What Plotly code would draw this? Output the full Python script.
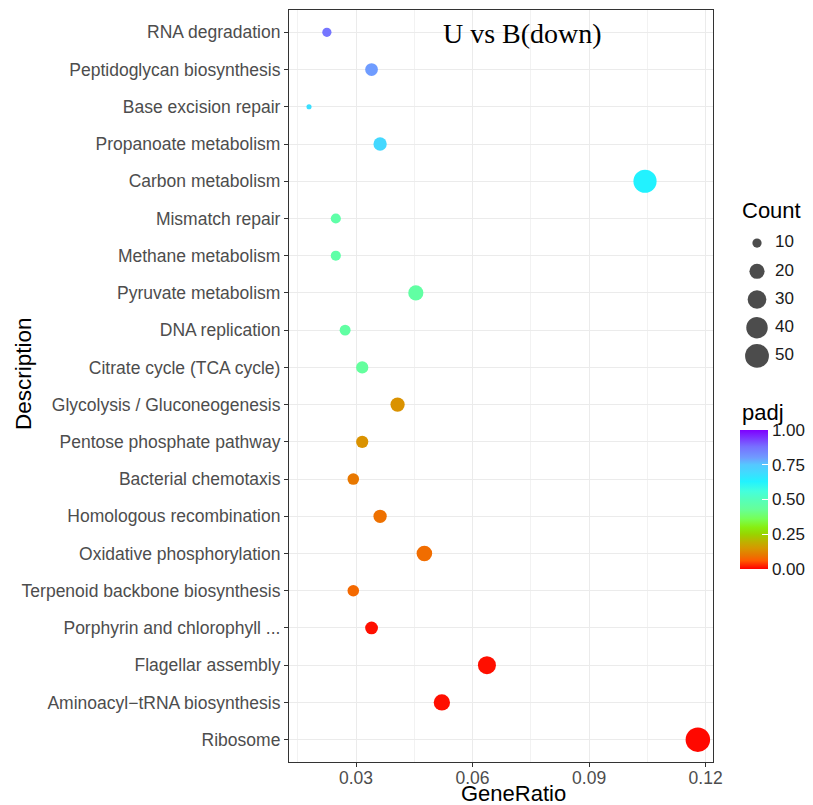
import numpy as np
import plotly.graph_objects as go

# KEGG enrichment, U vs B (down-regulated genes); listed top to bottom
pathways = [
    "RNA degradation", "Peptidoglycan biosynthesis", "Base excision repair",
    "Propanoate metabolism", "Carbon metabolism", "Mismatch repair",
    "Methane metabolism", "Pyruvate metabolism", "DNA replication",
    "Citrate cycle (TCA cycle)", "Glycolysis / Gluconeogenesis",
    "Pentose phosphate pathway", "Bacterial chemotaxis",
    "Homologous recombination", "Oxidative phosphorylation",
    "Terpenoid backbone biosynthesis", "Porphyrin and chlorophyll ...",
    "Flagellar assembly", "Aminoacyl\u2212tRNA biosynthesis", "Ribosome",
]
gene_ratio = [0.0225, 0.0340, 0.0179, 0.0362, 0.1044, 0.0248, 0.0248, 0.0454,
              0.0272, 0.0316, 0.0407, 0.0316, 0.0293, 0.0362, 0.0476, 0.0293,
              0.0340, 0.0637, 0.0521, 0.1180]
counts = [10, 15, 8, 16, 47, 11, 11, 20, 12, 14, 18, 14, 13, 16, 21, 13,
          15, 28, 23, 53]
padj = [0.87, 0.80, 0.68, 0.70, 0.63, 0.46, 0.46, 0.45, 0.45, 0.44, 0.14,
        0.14, 0.10, 0.09, 0.085, 0.08, 0.01, 0.01, 0.01, 0.005]

x_ticks = [0.03, 0.06, 0.09, 0.12]
size_breaks = [10, 20, 30, 40, 50]
padj_ticks = [0.0, 0.25, 0.5, 0.75, 1.0]

W, H = 813, 805
# plot panel in pixels
PL, PR, PT, PB = 289, 713, 10, 762
X_RANGE = [0.01275, 0.1219]

rainbow = [
    [0.00, "#ff0000"], [0.06, "#ff5a00"], [0.10, "#e87800"],
    [0.15, "#d69800"], [0.20, "#bbb400"], [0.25, "#99d400"],
    [0.30, "#88ee11"], [0.36, "#77ff55"], [0.43, "#66ff99"],
    [0.50, "#55ffbb"], [0.56, "#44ffdd"], [0.63, "#22f2ff"],
    [0.70, "#44d8ff"], [0.75, "#55c8ff"], [0.80, "#6f9cff"],
    [0.88, "#7770ff"], [1.00, "#7f00ff"],
]

cmin_n, cmax_n = min(counts), max(counts)


def dot_diameter(n):
    # area-proportional size scale between 1 and 6 (ggplot units), in px
    frac = np.clip((np.asarray(n, float) - cmin_n) / (cmax_n - cmin_n), 0, 1)
    size = 1 + 5 * np.sqrt(frac)
    return 1.36 * (size * 2.845 + 0.94)


SANS = "Liberation Sans, Arial"

fig = go.Figure()

fig.add_trace(go.Scatter(
    x=gene_ratio, y=pathways, mode="markers",
    marker=dict(
        size=dot_diameter(counts), color=padj, colorscale=rainbow,
        cmin=0, cmax=1, opacity=1, line=dict(width=0),
        colorbar=dict(
            x=740 / W, xanchor="left", y=(H - 499.5) / H, yanchor="middle",
            len=139 / H, lenmode="fraction", thickness=28,
            outlinewidth=0, tickvals=padj_ticks,
            ticktext=[f"{v:.2f}" for v in padj_ticks],
            ticks="inside", ticklen=6, tickcolor="white", tickwidth=1,
            tickfont=dict(family=SANS, size=17, color="#1a1a1a"),
            ypad=0, xpad=0,
        ),
    ),
    showlegend=False, hoverinfo="x+y",
))

# size legend on its own small axis pair
fig.add_trace(go.Scatter(
    x=[17] * len(size_breaks), y=size_breaks, mode="markers",
    marker=dict(size=dot_diameter(size_breaks), color="#000000",
                line=dict(width=0)),
    xaxis="x2", yaxis="y2", showlegend=False, hoverinfo="skip",
))
fig.add_trace(go.Scatter(
    x=[35] * len(size_breaks), y=size_breaks, mode="text",
    text=[str(v) for v in size_breaks], textposition="middle right",
    textfont=dict(family=SANS, size=17, color="#1a1a1a"),
    xaxis="x2", yaxis="y2", showlegend=False, hoverinfo="skip",
))

tick_font = dict(family=SANS, size=17.5, color="#4d4d4d")

fig.update_layout(
    width=W, height=H,
    margin=dict(l=0, r=0, t=0, b=0, autoexpand=False),
    paper_bgcolor="white", plot_bgcolor="white",
    xaxis=dict(
        domain=[PL / W, PR / W], range=X_RANGE,
        tickvals=x_ticks, ticktext=[f"{v:.2f}" for v in x_ticks],
        ticks="", tickfont=tick_font,
        showgrid=True, gridcolor="#ebebeb", gridwidth=1.2,
        minor=dict(tickvals=[0.015, 0.045, 0.075, 0.105], showgrid=True,
                   gridcolor="#f2f2f2", gridwidth=0.8, ticks=""),
        showline=True, linecolor="#333333", linewidth=1.2, mirror=True,
        zeroline=False, automargin=False, anchor="y",
    ),
    # tick marks only, drawn on an overlaid copy of the x axis
    xaxis3=dict(
        domain=[PL / W, PR / W], range=X_RANGE, overlaying="x",
        matches="x", tickvals=x_ticks, ticks="outside", ticklen=4,
        tickcolor="#333333", showticklabels=False, showgrid=False,
        showline=False, zeroline=False, anchor="y", side="bottom",
    ),
    yaxis=dict(
        domain=[(H - PB) / H, (H - PT) / H],
        type="category", categoryorder="array",
        categoryarray=pathways[::-1], range=[-0.6, len(pathways) - 0.4],
        ticks="outside", ticklen=4, tickcolor="#333333",
        tickfont=tick_font, showgrid=True, gridcolor="#ebebeb", gridwidth=1.2,
        showline=True, linecolor="#333333", linewidth=1.2, mirror=True,
        zeroline=False, automargin=False, anchor="x",
    ),
    xaxis2=dict(domain=[740 / W, 1], range=[0, 73], visible=False,
                anchor="y2", fixedrange=True),
    yaxis2=dict(domain=[(H - 370) / H, (H - 229) / H], range=[55, 5],
                visible=False, anchor="x2", fixedrange=True),
    annotations=[
        dict(text="U vs B(down)", xref="paper", yref="paper",
             x=522 / W, y=(H - 33) / H, xanchor="center", yanchor="middle",
             showarrow=False,
             font=dict(family="Liberation Serif, Times New Roman", size=28,
                       color="black")),
        dict(text="GeneRatio", xref="paper", yref="paper",
             x=513 / W, y=(H - 793) / H, xanchor="center", yanchor="middle",
             showarrow=False,
             font=dict(family=SANS, size=22, color="black")),
        dict(text="Description", xref="paper", yref="paper",
             x=23 / W, y=(H - 374) / H, textangle=-90, xanchor="center",
             yanchor="middle", showarrow=False,
             font=dict(family=SANS, size=22.5, color="black")),
        dict(text="Count", xref="paper", yref="paper",
             x=740 / W, y=(H - 211) / H, xanchor="left", yanchor="middle",
             showarrow=False,
             font=dict(family=SANS, size=22, color="black")),
        dict(text="padj", xref="paper", yref="paper",
             x=740 / W, y=(H - 413) / H, xanchor="left", yanchor="middle",
             showarrow=False,
             font=dict(family=SANS, size=22, color="black")),
    ],
)

# invisible trace so the tick-mark axis is drawn
fig.add_trace(go.Scatter(x=[None], y=[None], xaxis="x3", yaxis="y",
                         showlegend=False, hoverinfo="skip"))

fig.write_html("out.html")
